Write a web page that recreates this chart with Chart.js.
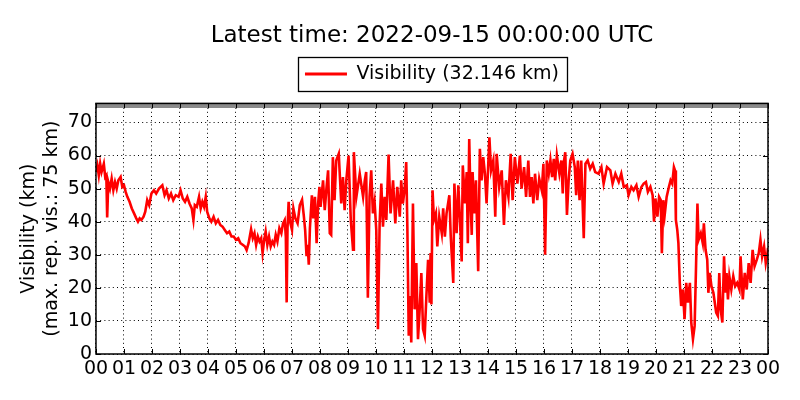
<!DOCTYPE html>
<html><head><meta charset="utf-8">
<script src="https://cdn.jsdelivr.net/npm/chart.js@4/dist/chart.umd.min.js"></script>
<style>html,body{margin:0;padding:0;background:#fff}canvas{display:block}</style>
</head><body>
<canvas id="c" width="800" height="400"></canvas>
<script>
const titleText = 'Latest time: 2022-09-15 00:00:00 UTC';
const seriesLabel = 'Visibility (32.146 km)';
const yTitle = ['Visibility (km)', '(max. rep. vis.: 75 km)'];
const hourTicks = [0,1,2,3,4,5,6,7,8,9,10,11,12,13,14,15,16,17,18,19,20,21,22,23,24];
const hourLabels = ['00','01','02','03','04','05','06','07','08','09','10','11','12','13','14','15','16','17','18','19','20','21','22','23','00'];
const yTickValues = [0,10,20,30,40,50,60,70];
const maxRepVis = 75;

// hours since 00 UTC / visibility in km
const timesA = [0.00,0.05,0.10,0.15,0.20,0.28,0.33,0.37,0.40,0.44,0.50,0.56,0.62,0.68,0.74,0.80,0.88,0.94,1.00,1.06,1.12,1.20,1.28,1.36,1.44,1.50,1.56,1.62,1.70,1.76,1.83,1.90,1.98,2.07,2.15,2.25,2.37,2.45,2.52,2.60,2.68,2.76,2.85,2.95,3.02,3.10,3.18,3.26,3.34,3.42,3.48,3.53,3.60,3.68,3.74,3.80,3.86,3.92,3.97];
const visA   = [55,57,54,57.5,55,57.5,53.5,54,41.3,52,50,53,49.5,52,50,52.5,53.5,50.5,51,49,47.5,46,44,42.5,41,40,41,40.5,41.5,43,46.5,45,48.5,49.5,48.5,50,51,48,49.5,47,48.5,46.5,48,47.5,49.5,47,46,47.5,45.5,44,40.5,45,44.5,47.5,44,46,44.5,47.5,43];

const timesB = [4.05,4.12,4.20,4.28,4.36,4.44,4.52,4.60,4.68,4.76,4.84,4.92,5.00,5.08,5.16,5.24,5.32,5.38,5.45,5.54,5.60,5.66,5.72,5.78,5.84,5.90,5.95,6.00,6.06,6.12,6.18,6.24,6.30,6.36,6.42,6.48,6.55,6.62,6.68,6.74,6.78,6.81,6.84,6.88,6.93,7.00,7.05,7.12,7.20,7.28,7.36,7.42,7.47,7.52,7.56,7.60,7.64,7.71,7.76,7.82,7.88,7.93,7.98];
const visB   = [41,40,41.5,39.5,40.5,39,38.5,37.5,36.5,37,35.5,35.5,34.5,35,33.5,33,32.5,31.4,33.5,37.7,35,36.5,33,35.5,34,35,30.5,34,37,33,35.5,32.5,34,33,36,34,38,36.5,39.5,40.5,35.5,15.6,38,46,40,37.5,44,41,39.5,45,46.6,42,37.5,29.6,33,27,38,48,41,47.5,33.5,45,50.5];

const timesC = [8.02,8.11,8.17,8.23,8.29,8.35,8.40,8.46,8.52,8.58,8.67,8.76,8.82,8.88,8.94,9.02,9.10,9.18,9.21,9.30,9.42,9.54,9.60,9.65,9.71,9.77,9.83,9.89,9.95,10.01,10.07,10.13,10.19,10.25,10.31,10.37,10.45,10.52,10.61,10.69,10.76,10.85,10.90,10.96,11.02,11.08,11.12,11.17,11.21,11.26,11.32,11.38,11.44,11.50,11.56,11.62,11.68,11.74,11.80,11.86,11.92,11.95,11.98];
const visC   = [44.5,52.5,43.5,50,55.5,36.5,36,59.5,46.5,58.5,60.5,45.5,53.5,43.5,52.5,60,40.5,31.5,61,47.5,54.5,47.5,52.5,55,17,47.5,55.5,42.5,46,37.5,7.5,39.5,51.5,38.5,47.5,40.5,60.3,42.5,52.5,39.5,50.5,41.5,52.5,45.5,49.5,58,38.5,5.5,17.5,3.5,45.5,13.5,27.5,4.5,13.5,24.5,7.5,5.5,17.5,28.5,15.5,30.5,15];

const timesD = [12.02,12.07,12.14,12.19,12.26,12.35,12.40,12.46,12.52,12.62,12.67,12.76,12.80,12.88,12.94,13.00,13.06,13.10,13.18,13.24,13.28,13.33,13.38,13.42,13.45,13.51,13.57,13.65,13.71,13.77,13.83,13.89,13.95,14.05,14.11,14.19,14.26,14.31,14.40,14.49,14.57,14.64,14.73,14.81,14.88,14.96,15.05,15.14,15.20,15.29,15.36,15.44,15.50,15.56,15.62,15.68,15.76,15.83,15.92,15.98];
const visD   = [49.5,40.5,42.5,32.5,41.5,36.5,44,35.5,42.5,48,35.5,21.5,51.5,36.5,51,40.5,28,57,45.5,55,33.5,65,45.5,36,55,42.5,52.5,25,62,52.5,59.5,54.5,45.5,65.5,55.5,58.5,41.5,60.5,50.5,55.5,39,52.5,47.5,60.5,46.5,59.5,51.5,60,50,56.5,47.5,58.5,47.5,53.5,45.5,54.5,46.5,53,49.5,57.5];

const timesE = [16.04,16.10,16.17,16.23,16.29,16.35,16.40,16.46,16.55,16.62,16.67,16.70,16.76,16.82,16.88,16.94,17.02,17.10,17.15,17.21,17.27,17.33,17.42,17.48,17.56,17.65,17.74,17.83,17.95,18.05,18.13,18.25,18.37,18.45,18.55,18.67,18.76,18.85,18.96,19.02,19.12,19.20,19.30,19.38,19.48,19.56,19.64,19.71,19.80,19.88];
const visE   = [30,58.5,54.5,58.5,53.5,59,52.5,60,54.5,58.5,48.5,57.5,61,42,52.5,58.5,60.5,56.5,48,58.5,46.5,58.5,35,57.5,58.5,56,57.5,55,54.5,56.5,51.5,56.5,55.5,51.5,54.5,52,54.5,50.5,51,48,50.5,49.5,51,47.5,50.5,51.5,52,49,50.5,48];

const timesF = [19.93,19.98,20.05,20.11,20.17,20.21,20.26,20.31,20.38,20.46,20.52,20.58,20.64,20.68,20.71,20.76,20.80,20.85,20.90,20.96,21.02,21.08,21.14,21.21,21.26,21.32,21.38,21.43,21.48,21.52,21.60,21.67,21.71,21.77,21.83,21.87,21.92,21.98,22.05,22.10,22.15,22.21,22.26,22.31,22.37,22.43,22.48,22.52,22.57,22.62,22.69,22.76,22.83,22.90,22.98,23.02,23.10,23.17,23.24,23.31,23.38,23.45,23.52,23.60,23.67,23.73,23.79,23.86,23.92,23.98,24.00];
const visF   = [40,47,41.5,47.5,46.5,30.5,46.5,42,47.5,50.5,52.5,51.5,56.5,55.5,40.5,37.5,33.5,21.5,14.5,19.5,10.5,21.5,15.5,21.5,9.5,4.5,8.5,26.5,45.5,34.5,36.5,33.5,39.5,31.5,28.5,18.5,24.5,20.5,18.5,15.5,12.5,11.5,24.5,13.5,9.5,29.5,18.5,24.5,16.5,23.5,19.5,23.5,20.5,21.5,19.5,29.5,16.5,24.5,19.5,27.5,21.5,31.5,26.5,28.5,30.5,34.5,29.5,32.5,27.5,30.5,32.1];

const times = [].concat(timesA, timesB, timesC, timesD, timesE, timesF);
const visibility = [].concat(visA, visB, visC, visD, visE, visF);
const points = times.map((t, i) => ({x: t, y: visibility[i]}));

const FONT = 'DejaVu Sans';
Chart.defaults.font.family = FONT;
Chart.defaults.color = '#000';

const LEGEND_EXTRA = 10;

const framePlugin = {
  id: 'frame',
  beforeLayout(chart) {
    const lg = chart.legend;
    if (lg && !lg._extraPatched) {
      const origFit = lg.fit;
      lg.fit = function () { origFit.call(this); this.height += LEGEND_EXTRA; };
      lg._extraPatched = true;
    }
  },
  afterDatasetsDraw(chart) {
    const {ctx, chartArea: a, scales: {x, y}} = chart;
    ctx.save();
    ctx.strokeStyle = '#000';
    ctx.lineWidth = 1;
    ctx.beginPath();
    hourTicks.forEach(h => {
      const px = Math.round(x.getPixelForValue(h)) + 0.5;
      ctx.moveTo(px, a.bottom); ctx.lineTo(px, a.bottom - 5);
      ctx.moveTo(px, a.top); ctx.lineTo(px, a.top + 5);
    });
    yTickValues.forEach(v => {
      const py = Math.round(y.getPixelForValue(v)) + 0.5;
      ctx.moveTo(a.left, py); ctx.lineTo(a.left + 5, py);
      ctx.moveTo(a.right, py); ctx.lineTo(a.right - 5, py);
    });
    ctx.stroke();
    ctx.lineWidth = 1.5;
    ctx.strokeRect(a.left, a.top, a.right - a.left, a.bottom - a.top);
    ctx.restore();
  },
  afterDraw(chart) {
    const lg = chart.legend;
    if (!lg || !lg.legendHitBoxes || !lg.legendHitBoxes.length) return;
    const hb = lg.legendHitBoxes[0];
    const cy = hb.top + hb.height / 2;
    const ctx = chart.ctx;
    ctx.save();
    ctx.strokeStyle = '#000';
    ctx.lineWidth = 1.3;
    ctx.strokeRect(Math.round(hb.left - 7) + 0.5, Math.round(cy - 17) + 0.5, Math.round(hb.width + 15), 34);
    ctx.restore();
  }
};

new Chart(document.getElementById('c'), {
  type: 'line',
  data: {
    datasets: [
      {
        label: seriesLabel,
        data: points,
        borderColor: '#ff0000',
        backgroundColor: '#ff0000',
        borderWidth: 2.6,
        pointRadius: 0,
        tension: 0,
        fill: false
      },
      {
        label: 'max',
        data: [{x: 0, y: maxRepVis}, {x: 24, y: maxRepVis}],
        borderColor: '#8a8a8a',
        borderWidth: 4,
        pointRadius: 0,
        clip: 0,
        fill: false
      }
    ]
  },
  options: {
    responsive: false,
    animation: false,
    devicePixelRatio: 1,
    layout: {padding: {left: 17.6, right: 32, top: 0, bottom: 15.2}},
    plugins: {
      title: {
        display: true,
        text: titleText,
        fullSize: false,
        color: '#000',
        font: {family: FONT, size: 23, weight: 'normal', lineHeight: 0.6},
        padding: {top: 29.1, bottom: 0}
      },
      legend: {
        display: true,
        position: 'top',
        fullSize: false,
        labels: {
          color: '#000',
          font: {family: FONT, size: 19},
          boxWidth: 42,
          boxHeight: 3,
          padding: 21.5,
          generateLabels: () => [{text: seriesLabel, fillStyle: '#ff0000', strokeStyle: '#ff0000', lineWidth: 0, datasetIndex: 0, hidden: false}]
        },
        onClick: null
      },
      tooltip: {enabled: false}
    },
    scales: {
      x: {
        type: 'linear',
        min: 0,
        max: 24,
        afterBuildTicks: s => { s.ticks = hourTicks.map(v => ({value: v})); },
        ticks: {
          autoSkip: false,
          maxRotation: 0,
          padding: 4,
          color: '#000',
          font: {family: FONT, size: 19},
          callback: (v, i) => hourLabels[i]
        },
        grid: {color: '#000', lineWidth: 1, drawTicks: false},
        border: {display: false, dash: [1, 3.2]}
      },
      y: {
        type: 'linear',
        min: 0,
        max: 75.75,
        afterBuildTicks: s => { s.ticks = yTickValues.map(v => ({value: v})); },
        ticks: {padding: 4, color: '#000', font: {family: FONT, size: 19}},
        grid: {color: '#000', lineWidth: 1, drawTicks: false},
        border: {display: false, dash: [1, 3.2]},
        title: {
          display: true,
          text: yTitle,
          color: '#000',
          font: {family: FONT, size: 19, lineHeight: 1.2},
          padding: {top: 0, bottom: 0.6}
        }
      }
    }
  },
  plugins: [framePlugin]
});
</script>
</body></html>
